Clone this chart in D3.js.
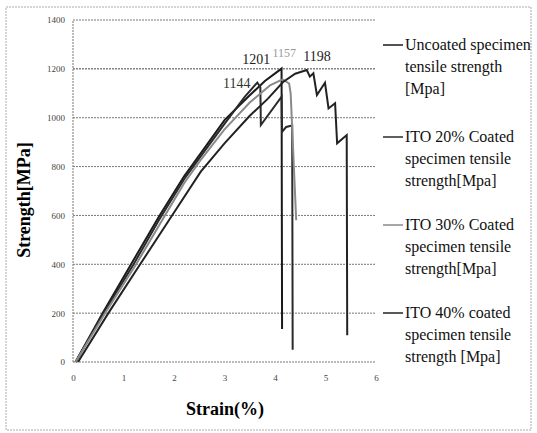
<!DOCTYPE html>
<html>
<head>
<meta charset="utf-8">
<script src="https://cdn.jsdelivr.net/npm/d3@7"></script>
<style>
  html, body { margin: 0; padding: 0; background: #fff; }
  svg { display: block; }
  svg text { font-family: "Liberation Serif", "DejaVu Serif", "Times New Roman", serif !important; }
</style>
</head>
<body>
<svg id="chart" width="537" height="433"></svg>
<script>
// ---- data ----
const xTicks = [0, 1, 2, 3, 4, 5, 6];
const yTicks = [0, 200, 400, 600, 800, 1000, 1200, 1400];

const uncoated = [[0.05,0],[0.6,205],[1.15,400],[1.7,595],[2.2,760],[2.55,860],[3,990],[3.5,1092],[3.8,1150],[4.13,1201],[4.14,135]];
const ito20 = [[0.05,0],[0.62,205],[1.2,400],[1.7,580],[2.2,748],[2.55,848],[3,975],[3.4,1085],[3.65,1144],[3.71,1125],[3.72,970],[4.13,1086],[4.14,942],[4.22,962],[4.34,968],[4.35,50]];
const ito30 = [[0.05,0],[0.65,205],[1.25,400],[1.75,575],[2.2,732],[2.55,833],[3,952],[3.5,1062],[3.9,1132],[4.15,1157],[4.28,1140],[4.31,1100],[4.42,580]];
const ito40 = [[0.1,0],[0.7,200],[1.33,400],[1.9,580],[2.53,779],[3,895],[3.5,1008],[3.86,1078],[4.16,1146],[4.4,1180],[4.63,1195],[4.69,1168],[4.76,1182],[4.83,1093],[4.99,1143],[5.06,1038],[5.19,1059],[5.23,895],[5.42,929],[5.43,110]];

const seriesNames = [
  ["Uncoated specimen", "tensile strength", "[Mpa]"],
  ["ITO 20% Coated", "specimen tensile", "strength[Mpa]"],
  ["ITO 30% Coated", "specimen tensile", "strength[Mpa]"],
  ["ITO 40% coated", "specimen tensile", "strength [Mpa]"]
];
const seriesData = [uncoated, ito20, ito30, ito40];
const seriesColors = ["#1a1a1a", "#2a2a2a", "#8a8a8a", "#222222"];

const peakLabels = [
  { text: "1201", x: 3.35, y: 1220, size: 14, color: "#222" },
  { text: "1144", x: 2.97, y: 1122, size: 14, color: "#333" },
  { text: "1157", x: 3.95, y: 1250, size: 12, color: "#999" },
  { text: "1198", x: 4.56, y: 1232, size: 14, color: "#222" }
];

// ---- layout ----
const serif = '"Liberation Serif", "DejaVu Serif", serif';
const svg = d3.select("#chart");
const x = d3.scaleLinear().domain([0, 6]).range([73, 376]);
const y = d3.scaleLinear().domain([0, 1400]).range([362, 20]);

// outer border
svg.append("rect").attr("x", 6).attr("y", 7).attr("width", 525).attr("height", 423)
  .attr("fill", "none").attr("stroke", "#aaa").attr("stroke-width", 1)
  .attr("stroke-dasharray", "2,1");

// gridlines
svg.append("g").selectAll("line").data(yTicks).join("line")
  .attr("x1", x(0)).attr("x2", x(6))
  .attr("y1", d => y(d)).attr("y2", d => y(d))
  .attr("stroke", d => d === 1200 ? "#444" : "#777")
  .attr("stroke-width", 1)
  .attr("stroke-dasharray", "2,1");

// left axis line
svg.append("line").attr("x1", x(0)).attr("x2", x(0)).attr("y1", y(0)).attr("y2", y(1400))
  .attr("stroke", "#777").attr("stroke-dasharray", "2,1");

// y axis tick labels
const yAxis = d3.axisLeft(y).tickValues(yTicks).tickFormat(d3.format("d")).tickSize(0).tickPadding(8);
const gy = svg.append("g").attr("transform", `translate(${x(0)},0)`).call(yAxis);
gy.attr("font-family", serif);
gy.select(".domain").remove();
gy.selectAll("text").style("font-family", serif).attr("font-size", 9).attr("fill", "#444");

// x axis tick labels
const xAxis = d3.axisBottom(x).tickValues(xTicks).tickFormat(d3.format("d")).tickSize(0).tickPadding(13);
const gx = svg.append("g").attr("transform", `translate(0,${y(0)})`).call(xAxis);
gx.attr("font-family", serif);
gx.select(".domain").remove();
gx.selectAll("text").style("font-family", serif).attr("font-size", 9).attr("fill", "#444");

// curves
const line = d3.line().x(d => x(d[0])).y(d => y(d[1]));
svg.append("g").selectAll("path").data(seriesData).join("path")
  .attr("d", line)
  .attr("fill", "none")
  .attr("stroke", (d, i) => seriesColors[i])
  .attr("stroke-width", 2)
  .attr("stroke-linejoin", "miter");

// peak labels
svg.append("g").selectAll("text").data(peakLabels).join("text")
  .attr("x", d => x(d.x)).attr("y", d => y(d.y))
  .style("font-family", serif)
  .attr("font-size", d => d.size).attr("fill", d => d.color)
  .text(d => d.text);

// axis titles
svg.append("text").attr("x", 225).attr("y", 415).attr("text-anchor", "middle")
  .style("font-family", serif)
  .attr("font-size", 18).attr("font-weight", "bold").text("Strain(%)");
svg.append("text").attr("transform", "translate(30,200) rotate(-90)").attr("text-anchor", "middle")
  .style("font-family", serif)
  .attr("font-size", 18).attr("font-weight", "bold").text("Strength[MPa]");

// legend
const legendY = [45, 137, 225, 313];
const lg = svg.append("g").selectAll("g").data(seriesNames).join("g")
  .attr("transform", (d, i) => `translate(383,${legendY[i]})`);
lg.append("line").attr("x1", 0).attr("x2", 20).attr("y1", 0).attr("y2", 0)
  .attr("stroke", (d, i) => seriesColors[i]).attr("stroke-width", 1.5);
lg.each(function(d) {
  const t = d3.select(this).append("text").style("font-family", serif)
    .attr("font-size", 16).attr("fill", "#111");
  d.forEach((s, k) => {
    t.append("tspan").attr("x", 22).attr("y", 5 + k * 22).text(s);
  });
});
</script>
</body>
</html>
